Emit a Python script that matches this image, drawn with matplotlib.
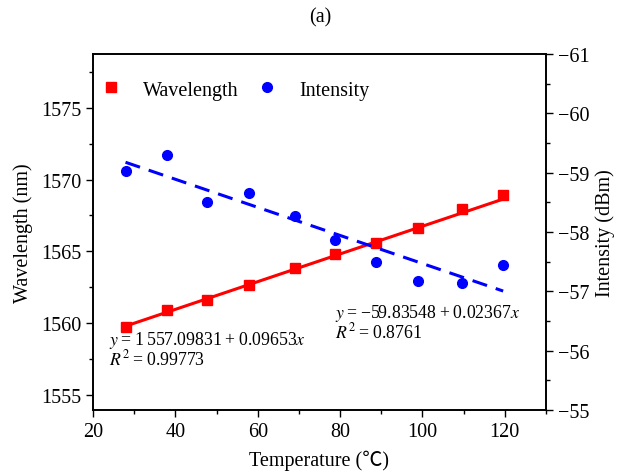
import matplotlib
matplotlib.use("Agg")
import matplotlib.pyplot as plt
from matplotlib.ticker import MultipleLocator
from matplotlib.lines import Line2D
import numpy as np

plt.rcParams['font.family'] = ['Liberation Serif', 'Noto Sans CJK SC', 'DejaVu Sans']
plt.rcParams['mathtext.fontset'] = 'stix'

temperature = [27.9, 37.9, 47.7, 57.9, 69.0, 78.7, 88.7, 98.9, 109.6, 119.6]
wavelength = [1559.76, 1560.92, 1561.61, 1562.65, 1563.87, 1564.82, 1565.60, 1566.62, 1567.92, 1568.96]
intensity = [-59.03, -59.30, -58.51, -58.66, -58.27, -57.87, -57.50, -57.18, -57.14, -57.44]

wl_fit = (1557.09831, 0.09653)
int_fit = (-59.83548, 0.02367)

red = '#ff0000'
blue = '#0000ff'
fs = 14.5

fig = plt.figure(figsize=(6.22, 4.77), dpi=100)
ax = fig.add_axes([0.1495, 0.1384, 0.7283, 0.7463])
ax2 = ax.twinx()

t = np.array(temperature)
tx = np.array([t.min(), t.max()])
ax.plot(tx, wl_fit[0] + wl_fit[1] * tx, color=red, lw=2.2, zorder=2)
ax.plot(t, wavelength, 's', color=red, ms=6.5, zorder=3)
ax2.plot(tx, int_fit[0] + int_fit[1] * tx, color=blue, lw=2.2, ls=(0, (5, 3)), zorder=2)
ax2.plot(t, intensity, 'o', color=blue, ms=7, zorder=3)

ax.set_xlim(20, 130)
ax.set_ylim(1553.95, 1578.75)
ax2.set_ylim(-55, -61)

ax.xaxis.set_major_locator(MultipleLocator(20))
ax.xaxis.set_minor_locator(MultipleLocator(10))
ax.yaxis.set_major_locator(MultipleLocator(5))
ax.yaxis.set_minor_locator(MultipleLocator(2.5))
ax2.yaxis.set_minor_locator(MultipleLocator(0.5))
int_ticks = [-55, -56, -57, -58, -59, -60, -61]
ax2.set_yticks(int_ticks)
ax2.set_yticklabels(['\u2212%d' % abs(v) for v in int_ticks])

for a in (ax, ax2):
    a.tick_params(which='major', direction='out', length=5, width=1, labelsize=fs)
    a.tick_params(which='minor', direction='out', length=3, width=1)
    for s in a.spines.values():
        s.set_linewidth(1.2)
ax.tick_params(axis='x', pad=4)

ax.set_xlabel('Temperature (\u2103)', fontsize=fs, labelpad=6)
ax.set_ylabel('Wavelength (nm)', fontsize=fs, labelpad=6)
ax2.set_ylabel('Intensity (dBm)', fontsize=fs, labelpad=4)
fig.text(0.5145, 0.962, '(a)', ha='center', va='center', fontsize=fs)

efs = 12.8
ts = '\u2009'
eq1 = f'$y${ts}={ts}1{ts}557.09831{ts}+{ts}0.09653$x$\n$R^2${ts}={ts}0.99773'
eq2 = f'$y${ts}={ts}\u221259.83548{ts}+{ts}0.02367$x$\n$R^2${ts}={ts}0.8761'
ax.text(0.036, 0.173, eq1, transform=ax.transAxes, fontsize=efs,
        ha='left', va='center', linespacing=0.88)
ax.text(0.535, 0.248, eq2, transform=ax.transAxes, fontsize=efs,
        ha='left', va='center', linespacing=0.88)

handles = [Line2D([], [], ls='none', marker='s', color=red, ms=6.5),
           Line2D([], [], ls='none', marker='o', color=blue, ms=7)]
ax2.legend(handles, ['Wavelength', 'Intensity'], loc='center left',
           bbox_to_anchor=(0.0, 0.899), ncol=2, frameon=False, fontsize=14.5,
           handlelength=1.0, handletextpad=1.1, columnspacing=0.9,
           borderaxespad=0.0)

fig.savefig('out.png', dpi=100)
